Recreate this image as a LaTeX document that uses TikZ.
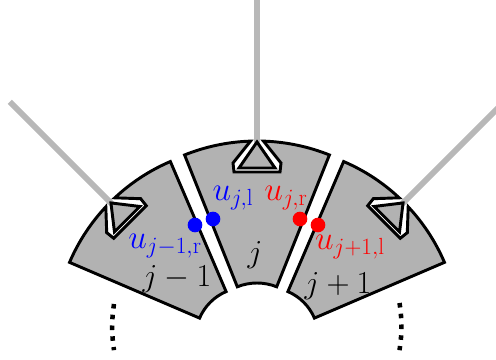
\documentclass[tikz,border=0pt]{standalone}
\usepackage{fix-cm}
\usepackage{amsmath}
\usetikzlibrary{positioning}

\begin{document}
\begin{tikzpicture}[
  x=0.75pt, y=0.75pt,
  every node/.style={font=\fontsize{24}{26}\selectfont, inner sep=0pt},
  sector/.style={draw, line width=2.2pt, fill=black!30, line join=miter},
  rod/.style={line width=4.5pt, draw=black!28},
  dots/.style={line width=3.4pt, dash pattern=on 3.4pt off 4.7pt},
  pt/.style={circle, minimum size=11pt},
  lab/.style={font=\fontsize{25}{27}\selectfont},
]
  \path[use as bounding box, clip] (0, 0) rectangle (496, 360);

  % three sectors, each with its wedge and rod
  \foreach \cx/\cy/\rot/\rin/\rout/\rend in {246/22/45/50.5/192/334, 257/24/0/53/195/338, 268/22/-45/50.5/192/334} {
    \begin{scope}[shift={(\cx, \cy)}, rotate=\rot]
      \draw[rod] (0, 188) -- (0, \rend);
      \draw[sector] (111.8:\rout) arc (111.8:91.9:\rout) -- (-24, 173) -- (-23, 164)
        -- (23, 164) -- (24, 173) -- (88.1:\rout) arc (88.1:68.2:\rout)
        -- (68.2:\rin) arc (68.2:111.8:\rin) -- cycle;
      \draw[sector] (0, \rout-1) -- (-18, 168) -- (18, 168) -- cycle;
    \end{scope}
  }

  \draw[dots] (114, 56) arc (170.9:189.1:146);
  \draw[dots] (399.5, 57) arc (9.3:-9.3:146);

  \node[pt, fill=blue] (ulr) at (195, 135) {};
  \node[pt, fill=blue] (ujl) at (213, 141) {};
  \node[pt, fill=red] (ujr) at (300, 141) {};
  \node[pt, fill=red] (url) at (318, 135) {};

  \node[lab, blue] (tlr) at (165, 114) {$u_{j-1,\mathrm{r}}$};
  \node[lab, blue] (tjl) at (233, 162) {$u_{j,\mathrm{l}}$};
  \node[lab, red] (tjr) at (286, 162) {$u_{j,\mathrm{r}}$};
  \node[lab, red] (trl) at (350, 113) {$u_{j+1,\mathrm{l}}$};

  \node (sl) at (177, 81) {$j-1$};
  \node (sj) at (255, 105) {$j$};
  \node (sr) at (338, 74) {$j+1$};
\end{tikzpicture}
\end{document}
